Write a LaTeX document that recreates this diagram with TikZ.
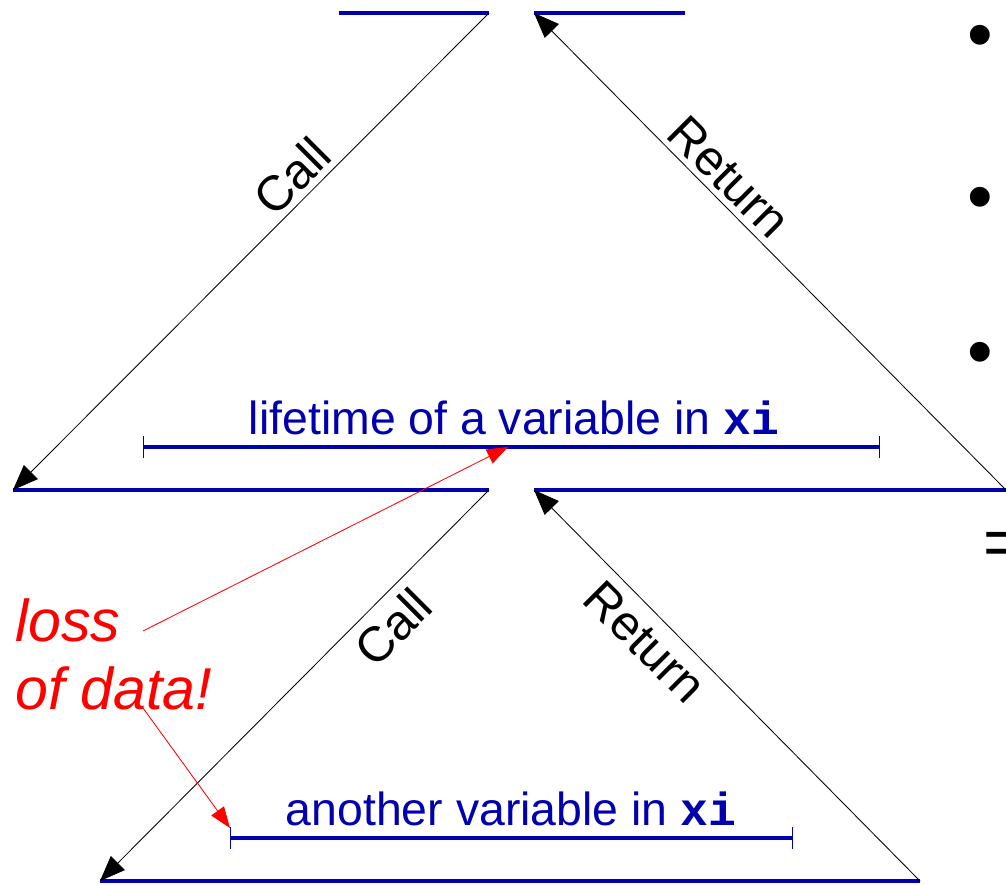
\documentclass[tikz,border=0pt]{standalone}
\usepackage{fontspec}
\setmainfont{Liberation Sans}
\setmonofont{Liberation Mono}
\usetikzlibrary{arrows.meta}
\definecolor{slideblue}{RGB}{0,0,175}
\tikzset{
  level/.style={slideblue,line width=2.9pt},
  span/.style={slideblue,line width=2.2pt,{Bar[width=15pt,line width=0.8pt]}-{Bar[width=15pt,line width=0.8pt]}},
  flow/.style={black,line width=0.6pt,-{Triangle[length=18pt,width=14pt]}},
  note/.style={red,line width=0.6pt,-{Triangle[length=15pt,width=11pt]}},
  lbl/.style={font=\fontsize{35}{42}\selectfont,inner sep=0pt},
  blbl/.style={slideblue,font=\fontsize{33}{40}\selectfont,inner sep=0pt}
}
\begin{document}
\begin{tikzpicture}[x=0.025cm,y=-0.025cm]
\useasboundingbox (0,0) rectangle (1006,885);
\clip (0,0) rectangle (1006,885);
% levels of the call stack
\coordinate (tl0) at (339,13);  \coordinate (tl1) at (489,13);
\coordinate (tr0) at (534,13);  \coordinate (tr1) at (685,13);
\coordinate (ml0) at (13,490);  \coordinate (ml1) at (489,490);
\coordinate (mr0) at (534,490); \coordinate (mr1) at (1006,490);
\coordinate (bl0) at (100,881); \coordinate (bl1) at (920,881);
\draw[level] (tl0) -- (tl1); \draw[level] (tr0) -- (tr1);
\draw[level] (ml0) -- (ml1); \draw[level] (mr0) -- (mr1);
\draw[level] (bl0) -- (bl1);
% calls and returns
\draw[flow] (tl1) -- (ml0); \draw[flow] (mr1) -- (tr0);
\draw[flow] (ml1) -- (bl0); \draw[flow] (bl1) -- (mr0);
\node[lbl,rotate=45] (call1) at (292,176) {Call};
\node[lbl,rotate=-45] (ret1) at (729,177) {Return};
\node[lbl,rotate=45] (call2) at (393,627) {Call};
\node[lbl,rotate=-45] (ret2) at (645,642) {Return};
% lifetimes
\coordinate (life0) at (143,447); \coordinate (life1) at (880,447);
\coordinate (other0) at (230,838); \coordinate (other1) at (793,838);
\draw[span] (life0) -- (life1);
\draw[span] (other0) -- (other1);
\node[blbl,anchor=base] (life) at (514,435) {lifetime of a variable in \textbf{\texttt{xi}}};
\node[blbl,anchor=base] (other) at (511,825) {another variable in \textbf{\texttt{xi}}};
% loss of data
\node[red,font=\fontsize{42}{49}\selectfont\itshape,align=left,anchor=north west,inner sep=0pt] (loss) at (15,598) {loss\\of data!};
\coordinate (loss0) at (143,631); \coordinate (loss1) at (143,708);
\coordinate (hit0) at (508,447); \coordinate (hit1) at (230,828);
\draw[note] (loss0) -- (hit0);
\draw[note] (loss1) -- (hit1);
% cut-off bullets on the right
\foreach \y [count=\i] in {42,204,359} { \node[lbl,font=\fontsize{52}{60}\selectfont] (dot\i) at (980,\y) {\textbullet}; }
\node[lbl,font=\fontsize{48}{56}\selectfont,anchor=west] (eq) at (983,549) {=};
\end{tikzpicture}
\end{document}
